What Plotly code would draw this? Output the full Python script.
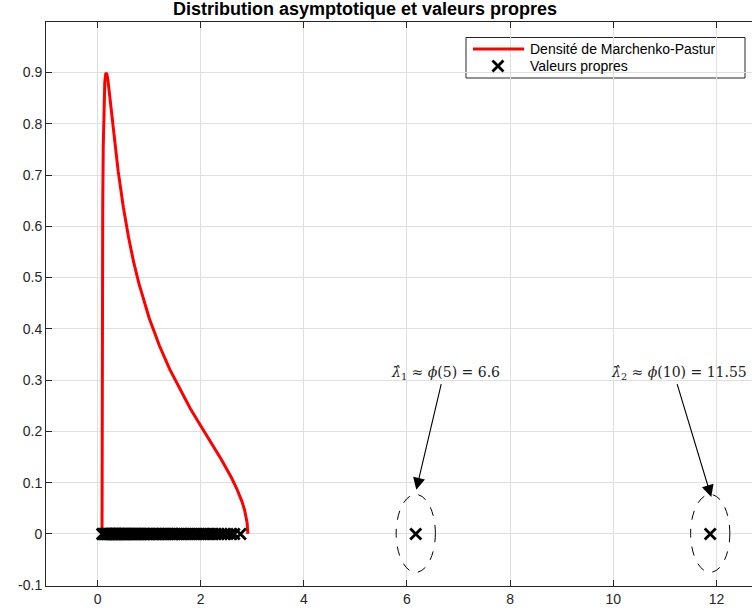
import plotly.graph_objects as go

# Marchenko-Pastur density, points
mp_x = [0.086, 0.088, 0.090, 0.095, 0.100, 0.110, 0.120, 0.140, 0.160, 0.180, 0.200,
        0.250, 0.300, 0.400, 0.500, 0.600, 0.700, 0.800, 1.000, 1.200, 1.400, 1.600,
        1.800, 2.000, 2.200, 2.400, 2.600, 2.700, 2.800, 2.850, 2.900, 2.914]
mp_y = [0.000, 0.285, 0.385, 0.540, 0.636, 0.754, 0.820, 0.881, 0.899, 0.897, 0.886,
        0.842, 0.794, 0.707, 0.637, 0.579, 0.530, 0.489, 0.421, 0.367, 0.321, 0.281,
        0.244, 0.211, 0.178, 0.145, 0.109, 0.088, 0.063, 0.047, 0.022, 0.000]

# Eigenvalues (bulk + two spikes)
eig_bulk = [0.09, 0.11, 0.13, 0.15, 0.16, 0.18, 0.19, 0.21, 0.22, 0.24, 0.25, 0.27, 0.28,
            0.30, 0.31, 0.33, 0.34, 0.36, 0.37, 0.39, 0.41, 0.42, 0.44, 0.46, 0.47, 0.49,
            0.51, 0.53, 0.54, 0.56, 0.58, 0.60, 0.62, 0.64, 0.66, 0.68, 0.70, 0.72, 0.74,
            0.76, 0.78, 0.80, 0.83, 0.85, 0.87, 0.90, 0.92, 0.95, 0.97, 1.00, 1.02, 1.05,
            1.08, 1.10, 1.13, 1.16, 1.19, 1.22, 1.25, 1.28, 1.31, 1.34, 1.37, 1.40, 1.44,
            1.47, 1.50, 1.54, 1.57, 1.61, 1.64, 1.68, 1.72, 1.76, 1.80, 1.84, 1.88, 1.92,
            1.96, 2.00, 2.05, 2.09, 2.14, 2.19, 2.24, 2.29, 2.34, 2.40, 2.46, 2.52, 2.58,
            2.65, 2.77]
eig_spikes = [6.17, 11.88]
spike_labels = ["<i>λ̂</i><sub>1</sub> ≈ <i>ϕ</i>(5) = 6.6",
                "<i>λ̂</i><sub>2</sub> ≈ <i>ϕ</i>(10) = 11.55"]
label_pos_x = [6.75, 11.28]
label_pos_y = [0.314, 0.314]
arrow_tail_x = [6.67, 11.23]
arrow_tail_y = [0.295, 0.295]
arrow_tip_x = [6.18, 11.90]
arrow_tip_y = [0.086, 0.072]

legend_names = ["Densité de Marchenko-Pastur", "Valeurs propres"]

y_ticks = [-0.1, 0, 0.1, 0.2, 0.3, 0.4, 0.5, 0.6, 0.7, 0.8, 0.9]
y_ticktext = ["-0.1", "0", "0.1", "0.2", "0.3", "0.4", "0.5", "0.6", "0.7", "0.8", "0.9"]
x_ticks = [0, 2, 4, 6, 8, 10, 12]

eig_all = eig_bulk + eig_spikes

AX = "#262626"
GRID = "#dfdfdf"
FONT = "Liberation Sans, Arial, sans-serif"
RED = "#ff0000"
X_MARKER = dict(symbol="x-thin", size=11, line=dict(color="black", width=2.8))

# legend box geometry (paper fractions)
LG_X0, LG_X1, LG_Y0, LG_Y1 = 0.5949, 0.9901, 0.9007, 0.9725
LG_ROW = [0.9521, 0.9220]
LG_LINE = [0.6048, 0.6771]
LG_MARK_X = 0.6402
LG_TEXT_X = 0.6827

fig = go.Figure()
fig.add_trace(go.Scatter(x=mp_x, y=mp_y, mode="lines",
                         line=dict(color=RED, width=3),
                         name=legend_names[0], showlegend=False))
fig.add_trace(go.Scatter(x=eig_all, y=[0] * len(eig_all), mode="markers",
                         marker=X_MARKER, name=legend_names[1], showlegend=False))
# legend glyph for the markers (on an overlay axis spanning the plot area)
fig.add_trace(go.Scatter(x=[LG_MARK_X], y=[LG_ROW[1]], mode="markers",
                         marker=X_MARKER, xaxis="x2", yaxis="y2",
                         showlegend=False, hoverinfo="skip", cliponaxis=False))

annotations = []
shapes = []
for i in range(len(eig_spikes)):
    annotations.append(dict(x=label_pos_x[i], y=label_pos_y[i], xref="x", yref="y",
                            text=spike_labels[i], showarrow=False,
                            font=dict(family="DejaVu Serif, serif",
                                      size=14, color="#222222")))
    annotations.append(dict(x=arrow_tip_x[i], y=arrow_tip_y[i], xref="x", yref="y",
                            ax=arrow_tail_x[i], ay=arrow_tail_y[i], axref="x", ayref="y",
                            text="", showarrow=True, arrowhead=2, arrowsize=2.2,
                            arrowwidth=1.1, arrowcolor="black", standoff=0))
    shapes.append(dict(type="circle", xref="x", yref="y",
                       x0=eig_spikes[i] - 0.38, x1=eig_spikes[i] + 0.38,
                       y0=-0.075, y1=0.077,
                       line=dict(color="black", width=1, dash="dash")))

# manual legend
shapes.append(dict(type="rect", xref="paper", yref="paper",
                   x0=LG_X0, x1=LG_X1, y0=LG_Y0, y1=LG_Y1, layer="between",
                   fillcolor="white", line=dict(color=AX, width=1)))
shapes.append(dict(type="line", xref="paper", yref="paper",
                   x0=LG_LINE[0], x1=LG_LINE[1], y0=LG_ROW[0], y1=LG_ROW[0],
                   line=dict(color=RED, width=3)))
for i, name in enumerate(legend_names):
    annotations.append(dict(x=LG_TEXT_X, y=LG_ROW[i], xref="paper", yref="paper",
                            xanchor="left", yanchor="middle", text=name, showarrow=False,
                            font=dict(family=FONT, size=14, color="black")))

fig.update_layout(
    width=752, height=615,
    margin=dict(l=46, r=0, t=22, b=29, autoexpand=False),
    paper_bgcolor="white", plot_bgcolor="white",
    font=dict(family=FONT, size=14, color=AX),
    title=dict(text="<b>Distribution asymptotique et valeurs propres</b>",
               x=0.4855, xref="container", xanchor="center",
               y=0.986, yref="container", yanchor="middle",
               font=dict(family=FONT, size=18, color="black")),
    showlegend=False,
    annotations=annotations,
    shapes=shapes,
    xaxis2=dict(overlaying="x", range=[0, 1], visible=False, fixedrange=True),
    yaxis2=dict(overlaying="y", range=[0, 1], visible=False, fixedrange=True),
)
fig.layout.xaxis.update(range=[-1, 12.69], tickvals=x_ticks, ticks="inside", ticklen=6,
                        tickcolor=AX, showline=True, linecolor=AX, linewidth=1,
                        mirror="ticks", showgrid=True, gridcolor=GRID, gridwidth=1,
                        zeroline=False, automargin=False,
                        tickfont=dict(family=FONT, size=14, color=AX))
fig.layout.yaxis.update(range=[-0.1016, 0.9984], tickvals=y_ticks, ticktext=y_ticktext,
                        ticks="inside", ticklen=6, tickcolor=AX, showline=True,
                        linecolor=AX, linewidth=1, mirror=False, showgrid=True,
                        gridcolor=GRID, gridwidth=1, zeroline=False, automargin=False,
                        tickfont=dict(family=FONT, size=14, color=AX))

fig.write_html("out.html",
               config={"displayModeBar": False},
               post_script="document.body.style.margin='0';document.body.style.overflow='hidden';")
